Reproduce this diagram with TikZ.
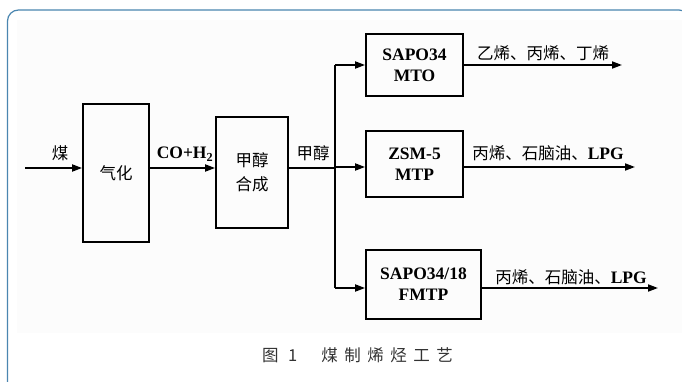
\documentclass[tikz,border=0pt]{standalone}
\usepackage{fontspec}
\setmainfont{Liberation Serif}
\newfontfamily\cjk{Noto Sans CJK SC}
\usetikzlibrary{arrows.meta}
\definecolor{framecol}{HTML}{4A86B0}
\definecolor{capgray}{HTML}{333333}
\definecolor{panel}{HTML}{FCFCFC}
\newcommand{\cs}{\hspace{6.5pt}}
\tikzset{
  x=1pt, y=-1pt,
  proc/.style={draw, line width=1.8pt, inner sep=0pt, align=center, font=\fontsize{17.5}{21}\selectfont\bfseries},
  flow/.style={line width=1.8pt, -{Triangle[length=10pt,width=7pt]}},
  link/.style={line width=1.8pt},
  lbl/.style={inner sep=0pt, font=\fontsize{16.5}{18}\selectfont},
}
\begin{document}
\begin{tikzpicture}
\useasboundingbox (0,0) rectangle (682,382);
\fill[white] (0,0) rectangle (682,382);
\fill[panel] (17,20) rectangle (682,333);
\draw[framecol, line width=1.2pt, rounded corners=11pt] (7.5,10) rectangle (690,400);

% process boxes
\node[proc, minimum width=66pt, minimum height=138pt] (gas) at (116,173) {\cjk\mdseries\fontsize{16.5}{20}\selectfont 气化};
\node[proc, minimum width=72pt, minimum height=111pt] (syn) at (252,172.5) {\cjk\mdseries\fontsize{16.5}{20}\selectfont 甲醇\\[3pt]\cjk\mdseries\fontsize{16.5}{20}\selectfont 合成};
\node[proc, minimum width=97pt, minimum height=62pt] (mto) at (414.5,65) {SAPO34\\MTO};
\node[proc, minimum width=97pt, minimum height=66pt] (mtp) at (414.5,164) {ZSM-5\\MTP};
\node[proc, minimum width=115pt, minimum height=69pt] (fmtp) at (423.5,284.5) {SAPO34/18\\FMTP};

% coordinates
\coordinate (in) at (25,168);
\coordinate (br) at (335,168);
\coordinate (brtop) at (335,65);
\coordinate (brbot) at (335,288);
\coordinate (o1) at (622,65);
\coordinate (o2) at (635,167);
\coordinate (o3) at (658,288);

% connectors
\draw[flow] (in) -- (gas.west |- in);
\draw[flow] (gas.east |- in) -- (syn.west |- in);
\draw[link] (syn.east |- br) -- (br);
\draw[link] (brtop) -- (brbot);
\draw[flow] (brtop) -- (mto.west |- brtop);
\draw[flow] (335,167) -- (mtp.west |- o2);
\draw[flow] (brbot) -- (fmtp.west |- brbot);
\draw[flow] (mto.east |- o1) -- (o1);
\draw[flow] (mtp.east |- o2) -- (o2);
\draw[flow] (fmtp.east |- o3) -- (o3);

% labels
\node[lbl] (l1) at (60,153) {\cjk 煤};
\node[lbl, font=\fontsize{17.5}{18}\selectfont\bfseries] (l2) at (185,154) {CO+H\textsubscript{2}};
\node[lbl] (l3) at (313,153) {\cjk 甲醇};
\node[lbl] (l4) at (543,53) {\cjk 乙烯、丙烯、丁烯};
\node[lbl] (l5) at (548,153) {\cjk 丙烯、石脑油、\rmfamily\bfseries\fontsize{17.5}{18}\selectfont LPG};
\node[lbl] (l6) at (571,277) {\cjk 丙烯、石脑油、\rmfamily\bfseries\fontsize{17.5}{18}\selectfont LPG};

% caption
\node[anchor=west, inner sep=0pt, text=capgray, font=\fontsize{16.5}{18}\selectfont] (cap) at (262,355) {\cjk 图\hspace{9.5pt}1\hspace{24pt}煤\cs 制\cs 烯\cs 烃\cs 工\cs 艺};
\end{tikzpicture}
\end{document}
